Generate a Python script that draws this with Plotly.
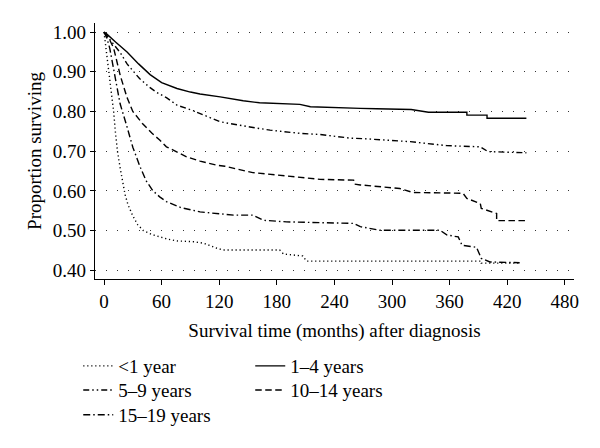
import plotly.graph_objects as go

# ---- data ----
t_lt1 = [0, 2, 4, 6, 8, 10, 12, 14, 17, 20, 22, 25, 30, 35, 41, 50, 58, 67, 76, 93, 104, 110, 117, 124, 183, 187, 207, 211, 393, 393, 432]
s_lt1 = [1.0, 0.965, 0.92, 0.88, 0.845, 0.80, 0.745, 0.70, 0.655, 0.62, 0.59, 0.565, 0.537, 0.515, 0.50, 0.49, 0.484, 0.478, 0.474, 0.472, 0.468, 0.462, 0.456, 0.451, 0.451, 0.441, 0.436, 0.423, 0.423, 0.418, 0.418]

t_1_4 = [0, 3, 12, 24, 36, 48, 60, 76, 90, 100, 121, 145, 162, 204, 215, 242, 267, 284, 320, 338, 378, 378, 399, 399, 440]
s_1_4 = [1.0, 0.995, 0.975, 0.95, 0.92, 0.893, 0.873, 0.858, 0.849, 0.844, 0.837, 0.827, 0.822, 0.818, 0.812, 0.809, 0.808, 0.807, 0.805, 0.798, 0.798, 0.791, 0.791, 0.783, 0.783]

t_5_9 = [0, 8, 17, 24, 37, 48, 55, 65, 76, 93, 110, 121, 152, 173, 204, 225, 256, 274, 319, 357, 392, 400, 440]
s_5_9 = [1.0, 0.975, 0.948, 0.92, 0.883, 0.86, 0.848, 0.835, 0.816, 0.802, 0.785, 0.774, 0.761, 0.753, 0.745, 0.742, 0.733, 0.731, 0.724, 0.714, 0.711, 0.699, 0.696]

t_10_14 = [0, 5, 10, 17, 24, 30, 40, 50, 58, 65, 86, 100, 117, 126, 155, 190, 225, 260, 261, 267, 308, 322, 374, 378, 392, 393, 409, 409, 439]
s_10_14 = [1.0, 0.985, 0.96, 0.89, 0.835, 0.80, 0.77, 0.745, 0.728, 0.711, 0.686, 0.675, 0.665, 0.662, 0.646, 0.638, 0.629, 0.627, 0.617, 0.615, 0.606, 0.596, 0.594, 0.581, 0.568, 0.556, 0.543, 0.525, 0.525]

t_15_19 = [0, 3, 6, 11.5, 16.7, 24, 30, 37.5, 44, 51, 58, 65, 80, 100, 135, 155, 166, 190, 225, 260, 267, 287, 350, 357, 369, 373, 388, 393, 402, 433]
s_15_19 = [1.0, 0.985, 0.959, 0.892, 0.82, 0.761, 0.71, 0.661, 0.625, 0.60, 0.585, 0.573, 0.558, 0.547, 0.539, 0.539, 0.526, 0.522, 0.520, 0.518, 0.510, 0.501, 0.501, 0.489, 0.484, 0.463, 0.458, 0.430, 0.421, 0.419]

x_ticks = [0, 60, 120, 180, 240, 300, 360, 420, 480]
y_ticks = [0.40, 0.50, 0.60, 0.70, 0.80, 0.90, 1.00]
y_tick_labels = ["0.40", "0.50", "0.60", "0.70", "0.80", "0.90", "1.00"]

FONT = "Liberation Serif"
FS = 19

# legend rows: each row is its own horizontal legend
series = [
    ("<1 year", t_lt1, s_lt1, "1.2px,2.8px", "legend"),
    ("1\u20134 years", t_1_4, s_1_4, "solid", "legend"),
    ("5\u20139 years", t_5_9, s_5_9, "6px,3px,1.5px,3px,1.5px,3px", "legend2"),
    ("10\u201314 years", t_10_14, s_10_14, "6.5px,3.5px", "legend2"),
    ("15\u201319 years", t_15_19, s_15_19, "7px,3px,1.5px,3px", "legend3"),
]

fig = go.Figure()
for name, t, s, dash, leg in series:
    fig.add_trace(go.Scatter(
        x=t, y=s, mode="lines", name=name, legend=leg,
        line=dict(color="black", width=1.4, dash=dash),
    ))

legend_common = dict(
    font=dict(family=FONT, size=FS, color="black"),
    bgcolor="rgba(0,0,0,0)", itemwidth=30, tracegroupgap=0,
    orientation="h", yanchor="middle", xanchor="left",
    entrywidth=127, entrywidthmode="pixels", x=-0.035,
)

fig.update_layout(
    width=592, height=440,
    margin=dict(l=87, r=26, t=15, b=169),
    paper_bgcolor="white", plot_bgcolor="white",
    font=dict(family=FONT, size=FS, color="black"),
    showlegend=True,
    legend=dict(y=-0.340, **legend_common),
    legend2=dict(y=-0.434, **legend_common),
    legend3=dict(y=-0.531, **legend_common),
    xaxis=dict(
        range=[-9.4, 489.6], tickvals=x_ticks, ticks="outside", ticklen=5,
        tickwidth=1.2, tickcolor="black", showline=True, linecolor="black",
        linewidth=1.4, showgrid=False, zeroline=False, automargin=False,
        tickfont=dict(family=FONT, size=FS),
        title=dict(text="Survival time (months) after diagnosis",
                   font=dict(family=FONT, size=FS), standoff=12),
    ),
    yaxis=dict(
        range=[0.378, 1.023], tickvals=y_ticks, ticktext=y_tick_labels,
        ticks="outside", ticklen=4, tickwidth=1.2, tickcolor="black",
        showline=True, linecolor="black", linewidth=1.4,
        showgrid=True, gridcolor="#333333", gridwidth=1.2, griddash="1px,10px",
        zeroline=False, automargin=False,
        tickfont=dict(family=FONT, size=FS),
        title=dict(text="Proportion surviving",
                   font=dict(family=FONT, size=FS), standoff=6),
    ),
)

fig.write_html("out.html")
